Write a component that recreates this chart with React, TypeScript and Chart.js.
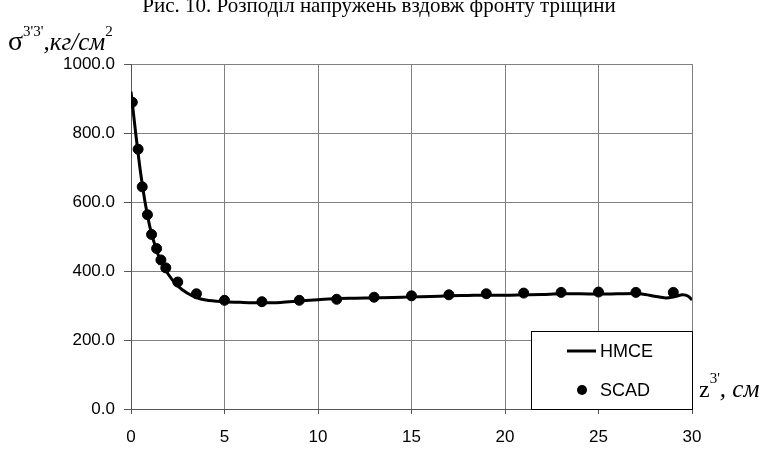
import React, { useEffect, useRef } from "react";
import { Chart, registerables } from "chart.js";

Chart.register(...registerables);

// Stress along the crack front: HMCE solution (smooth curve)
const hmceZ = [0, 0.25, 0.5, 0.75, 1, 1.25, 1.5, 2, 2.5, 3, 3.5, 4, 5, 6, 7, 8, 9, 10, 11, 12, 13, 14, 15, 16, 17, 18, 19, 20, 21, 22, 23, 24, 25, 26, 27, 27.5, 28, 28.6, 29.1, 29.5, 29.8, 30];
const hmceStress = [920, 800, 690, 600, 530, 480, 440, 390, 357, 336, 323, 316, 311, 309, 308, 309, 313, 317, 320, 321, 322, 323, 325, 326, 328, 329, 330, 330, 331, 332, 334, 334, 333, 334, 335, 332, 327, 322, 326, 331, 327, 316];

// SCAD results (points)
const scadZ = [0.07, 0.38, 0.6, 0.88, 1.1, 1.37, 1.6, 1.86, 2.5, 3.5, 5, 7, 9, 11, 13, 15, 17, 19, 21, 23, 25, 27, 29];
const scadStress = [889, 753, 644, 563, 506, 465, 432, 409, 368, 334, 315, 311, 315, 318, 324, 328, 331, 334, 336, 338, 339, 338, 338];

const xTickValues = [0, 5, 10, 15, 20, 25, 30];
const yTickValues = [0, 200, 400, 600, 800, 1000];

const titleText = "Рис. 10. Розподіл напружень вздовж фронту тріщини";
const seriesNames = ["HMCE", "SCAD"];

const SANS = "'Liberation Sans', Arial, sans-serif";
const SERIF = "'Liberation Serif', 'Times New Roman', serif";

const annotations = {
  id: "annotations",
  afterDraw(chart: any) {
    const { ctx, chartArea } = chart;
    ctx.save();

    // caption above the chart
    ctx.fillStyle = "#000";
    ctx.textBaseline = "alphabetic";
    ctx.textAlign = "center";
    ctx.font = `21px ${SERIF}`;
    ctx.fillText(titleText, 379, 12);

    // y axis label: σ^{3'3'},кг/см^2
    ctx.textAlign = "left";
    let x = 8;
    const yb = 50;
    ctx.font = `28px ${SERIF}`;
    ctx.fillText("σ", x, yb);
    x += ctx.measureText("σ").width;
    ctx.font = `15px ${SERIF}`;
    ctx.fillText("3'3'", x, yb - 14);
    x += ctx.measureText("3'3'").width;
    ctx.font = `italic 25px ${SERIF}`;
    ctx.fillText(",кг/см", x, yb);
    x += ctx.measureText(",кг/см").width;
    ctx.font = `15px ${SERIF}`;
    ctx.fillText("2", x, yb - 14);

    // x axis label: z^{3'}, см
    x = chartArea.right + 7;
    const xb = 397;
    ctx.font = `24px ${SERIF}`;
    ctx.fillText("z", x, xb);
    x += ctx.measureText("z").width;
    ctx.font = `15px ${SERIF}`;
    ctx.fillText("3'", x, xb - 14);
    x += ctx.measureText("3'").width;
    ctx.font = `italic 25px ${SERIF}`;
    ctx.fillText(", см", x, xb);

    // legend box in the lower right corner of the plot
    const boxL = 531;
    const boxT = 331;
    const boxR = chartArea.right + 1;
    const boxB = chartArea.bottom;
    ctx.fillStyle = "#fff";
    ctx.fillRect(boxL, boxT, boxR - boxL, boxB - boxT);
    ctx.strokeStyle = "#000";
    ctx.lineWidth = 1;
    ctx.strokeRect(boxL + 0.5, boxT + 0.5, boxR - boxL - 1, boxB - boxT);

    const row1 = boxT + 20;
    const row2 = boxT + 59;
    ctx.beginPath();
    ctx.lineWidth = 3;
    ctx.moveTo(567, row1);
    ctx.lineTo(596, row1);
    ctx.stroke();
    ctx.fillStyle = "#000";
    ctx.beginPath();
    ctx.arc(582, row2, 5, 0, Math.PI * 2);
    ctx.fill();
    ctx.font = `18px ${SANS}`;
    ctx.textBaseline = "middle";
    ctx.fillText(seriesNames[0], 600, row1 + 1);
    ctx.fillText(seriesNames[1], 600, row2 + 1);

    ctx.restore();
  },
};

export default function App() {
  const canvasRef = useRef<HTMLCanvasElement | null>(null);

  useEffect(() => {
    const canvas = canvasRef.current;
    if (!canvas) return;
    const chart = new Chart(canvas, {
      type: "scatter",
      data: {
        datasets: [
          {
            label: seriesNames[0],
            data: hmceZ.map((z, i) => ({ x: z, y: hmceStress[i] })),
            showLine: true,
            borderColor: "#000",
            borderWidth: 3,
            pointRadius: 0,
            cubicInterpolationMode: "monotone",
            order: 2,
          },
          {
            label: seriesNames[1],
            data: scadZ.map((z, i) => ({ x: z, y: scadStress[i] })),
            showLine: false,
            backgroundColor: "#000",
            borderColor: "#000",
            pointRadius: 5,
            order: 1,
          },
        ],
      },
      options: {
        animation: false,
        responsive: false,
        events: [],
        layout: { padding: { left: 0, top: 64, right: 77, bottom: 0 } },
        plugins: {
          legend: { display: false },
          tooltip: { enabled: false },
        },
        scales: {
          x: {
            type: "linear",
            min: 0,
            max: 30,
            afterBuildTicks: (scale: any) => {
              scale.ticks = xTickValues.map((v) => ({ value: v }));
            },
            afterFit: (scale: any) => {
              scale.height = 40;
            },
            ticks: {
              color: "#000",
              font: { family: SANS, size: 17 },
              padding: 13,
              maxRotation: 0,
              callback: (v: any) => String(v),
            },
            grid: {
              color: "#808080",
              lineWidth: 1,
              tickColor: "#555",
              tickLength: 5,
            },
            border: { color: "#555", width: 1 },
          },
          y: {
            type: "linear",
            min: 0,
            max: 1000,
            afterBuildTicks: (scale: any) => {
              scale.ticks = yTickValues.map((v) => ({ value: v }));
            },
            afterFit: (scale: any) => {
              scale.width = 131;
            },
            ticks: {
              color: "#000",
              font: { family: SANS, size: 17 },
              padding: 9,
              callback: (v: any) => Number(v).toFixed(1),
            },
            grid: {
              color: "#808080",
              lineWidth: 1,
              tickColor: "#555",
              tickLength: 7,
            },
            border: { color: "#555", width: 1 },
          },
        },
      },
      plugins: [annotations],
    });
    return () => chart.destroy();
  }, []);

  return (
    <div style={{ position: "absolute", left: 0, top: 0, width: 769, height: 449, background: "#fff" }}>
      <canvas ref={canvasRef} width={769} height={449} style={{ display: "block" }} />
    </div>
  );
}
